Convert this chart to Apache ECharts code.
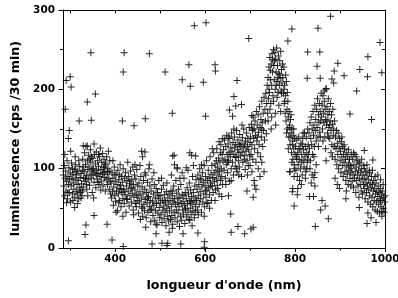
<!DOCTYPE html>
<html>
<head>
<meta charset="utf-8">
<script src="https://cdn.jsdelivr.net/npm/echarts@6/dist/echarts.min.js"></script>
<style>
  html, body { margin: 0; padding: 0; background: #fff; }
  #chart { width: 398px; height: 298px; }
</style>
</head>
<body>
<div id="chart"></div>
<script>
// tick values
const xMajorTicks = [400, 600, 800, 1000];
const xMinorTicks = [300, 500, 700, 900];
const xAllTicks = [300, 400, 500, 600, 700, 800, 900, 1000];

// points, [wavelength nm, counts], grouped by range
const band285 = [[285,92],[286,78],[287,104],[288,66],[289,88],[290,97],[291,72],[292,84],[293,110],[294,62],[295,90],[296,80],[297,101],[298,70],[299,86],[300,95],[301,58],[302,78],[303,107],[304,88],[305,68],[306,93],[307,82],[308,74],[309,99],[310,64],[311,87],[312,105],[313,71],[314,92],[315,80],[316,68],[317,97],[318,85],[319,62],[320,76],[321,103],[322,89],[323,70],[324,94],[325,81],[326,66],[327,98],[328,112],[329,77],[330,88],
  [288,118],[292,57],[301,122],[306,60],[311,115],[316,56],[319,110],[324,63],[327,72],[295,70],[305,100],[313,96],[322,73],[329,102]];
const band330 = [[331,96],[332,120],[333,84],[334,105],[335,128],[336,91],[337,74],[338,110],[339,99],[340,86],[341,117],[342,102],[343,79],[344,93],[345,124],[346,108],[347,88],[348,97],[349,70],[350,113],[351,92],[352,100],[353,83],[354,118],[355,95],[356,106],[357,76],[358,121],[359,98],[360,87],[361,110],[362,94],[363,103],[364,80],[365,115],[366,90],[367,126],[368,99],[369,84],[370,108],[371,93],[372,119],[373,78],[374,101],[375,112],[376,89],[377,96],[378,72],[379,105],[380,86],[381,115],[382,93],[383,80],[384,100],[385,122],[386,88],[387,74],[388,97],[389,84],[390,68],
  [334,88],[339,66],[344,112],[349,100],[353,131],[358,92],[363,118],[368,73],[373,95],[378,107],[383,96],[388,110],[336,80],[347,115],[362,83],[376,102]];
const band390 = [[391,82],[392,63],[393,95],[394,71],[395,88],[396,54],[397,77],[398,102],[399,66],[400,84],[401,59],[402,93],[403,72],[404,80],[405,47],[406,98],[407,68],[408,86],[409,75],[410,60],[411,105],[412,79],[413,52],[414,90],[415,70],[416,83],[417,62],[418,100],[419,74],[420,56],[421,88],[422,67],[423,95],[424,45],[425,78],[426,85],[427,61],[428,108],[429,72],[430,90],[431,53],[432,81],[433,66],[434,97],[435,75],[436,58],[437,86],[438,69],[439,102],[440,48],[441,80],[442,64],[443,92],[444,73],[445,56],[446,87],[447,67],[448,99],[449,60],[450,78],
  [395,110],[402,45],[410,92],[417,40],[425,62],[433,84],[441,42],[447,52],[399,92],[408,57],[420,71],[437,76],[444,105],[413,74]];
const band450 = [[451,66],[452,44],[453,82],[454,58],[455,71],[456,36],[457,90],[458,63],[459,52],[460,77],[461,40],[462,68],[463,85],[464,55],[465,47],[466,74],[467,61],[468,92],[469,38],[470,70],[471,57],[472,83],[473,45],[474,65],[475,100],[476,52],[477,78],[478,60],[479,33],[480,72],[481,49],[482,87],[483,58],[484,41],[485,68],[486,54],[487,80],[488,35],[489,63],[490,47],[491,75],[492,56],[493,29],[494,70],[495,44],[496,62],[497,85],[498,51],[499,38],[500,66],[501,57],[502,42],[503,74],[504,32],[505,60],[506,48],[507,79],[508,53],[509,37],[510,67],[511,45],[512,58],[513,28],[514,71],[515,50],[516,40],[517,63],[518,55],[519,34],[520,68],
  [455,104],[461,115],[466,95],[472,63],[478,48],[486,95],[491,30],[497,66],[503,88],[509,60],[515,82],[459,122],[466,121],[476,105]];
const band520 = [[521,47],[522,60],[523,36],[524,72],[525,52],[526,41],[527,66],[528,30],[529,58],[530,78],[531,45],[532,62],[533,38],[534,55],[535,85],[536,48],[537,69],[538,33],[539,57],[540,44],[541,74],[542,52],[543,27],[544,63],[545,40],[546,80],[547,56],[548,35],[549,67],[550,48],[551,59],[552,42],[553,88],[554,54],[555,31],[556,70],[557,50],[558,62],[559,39],[560,76],[561,56],[562,45],[563,68],[564,36],[565,82],[566,60],[567,50],[568,73],[569,42],[570,65],[571,55],[572,90],[573,47],[574,70],[575,58],[576,38],[577,78],[578,63],[579,52],[580,86],
  [525,92],[532,105],[538,100],[544,88],[549,95],[556,48],[562,98],[568,58],[574,104],[578,45],[528,72],[540,63],[553,66],[566,35]];
const band580 = [[581,60],[582,74],[583,48],[584,92],[585,66],[586,80],[587,55],[588,100],[589,71],[590,62],[591,86],[592,45],[593,77],[594,95],[595,58],[596,83],[597,68],[598,104],[599,52],[600,79],[601,90],[602,64],[603,110],[604,73],[605,85],[606,57],[607,98],[608,76],[609,88],[610,67],[611,115],[612,82],[613,93],[614,60],[615,104],[616,78],[617,89],[618,70],[619,120],[620,95],[621,84],[622,106],[623,73],[624,98],[625,87],[626,125],[627,79],[628,102],[629,92],[630,113],[631,68],[632,96],[633,108],[634,85],[635,130],[636,100],[637,90],[638,118],[639,80],[640,110],
  [585,42],[592,105],[598,40],[604,56],[610,50],[616,125],[622,60],[628,75],[634,120],[639,138],[589,88],[601,72],[613,78],[625,110],[631,134],[637,65]];
const band640 = [[641,124],[642,98],[643,136],[644,112],[645,88],[646,128],[647,105],[648,142],[649,118],[650,95],[651,131],[652,110],[653,120],[654,84],[655,138],[656,115],[657,126],[658,100],[659,145],[660,122],[661,108],[662,133],[663,92],[664,118],[665,140],[666,127],[667,103],[668,130],[669,114],[670,148],[671,96],[672,124],[673,136],[674,110],[675,120],[676,102],[677,143],[678,128],[679,116],[680,132],[681,90],[682,121],[683,139],[684,108],[685,126],[686,150],[687,117],[688,130],[689,99],[690,135],[691,122],[692,145],[693,110],[694,128],[695,138],[696,104],[697,124],[698,152],[699,116],[700,133],
  [646,80],[652,140],[658,85],[664,150],[670,100],[676,130],[682,155],[688,112],[694,92],[700,104],[650,108],[667,115]];
const band700 = [[701,140],[702,118],[703,156],[704,130],[705,148],[706,112],[707,165],[708,138],[709,150],[710,125],[711,160],[712,142],[713,108],[714,172],[715,135],[716,155],[717,120],[718,168],[719,146],[720,130],[721,178],[722,152],[723,115],[724,162],[725,140],[726,185],[727,158],[728,128],[729,170],[730,148],[731,190],[732,136],[733,175],[734,160],[735,195],[736,144],[737,182],
  [704,96],[709,85],[713,74],[718,100],[722,90],[726,108],[731,96],[706,150],[716,140],[726,150]];
const peak750 = [[738,205],[739,170],[740,215],[741,188],[742,228],[743,196],[744,240],[745,212],[746,182],[747,232],[748,205],[749,245],[750,222],[751,192],[752,250],[753,230],[754,212],[755,246],[756,200],[757,238],[758,222],[759,252],[760,210],[761,230],[762,196],[763,242],[764,220],[765,205],[766,236],[767,214],[768,248],[769,198],[770,225],[771,208],[772,232],
  [740,160],[744,175],[748,165],[752,185],[756,170],[760,190],[764,180],[768,172],[742,200],[750,238],[758,205],[766,218],[745,224],[754,236],[762,215],[770,195],[747,150],[757,155]];
const band773 = [[773,215],[774,195],[775,228],[776,182],[777,205],[778,170],[779,192],[780,160],[781,210],[782,175],[783,150],[784,185],[785,165],[786,140],[787,172],[788,155],[789,130],[790,162],[791,145],[792,120],[793,150],[794,135],[795,112],[796,142],[797,125],[798,105],[799,138],[800,118],
  [775,200],[779,218],[783,196],[787,152],[791,168],[795,130],[799,100],[777,185],[785,125],[789,140],[793,108],[797,150],[781,145],[789,96],[795,75],[798,90]];
const band800 = [[801,128],[802,98],[803,115],[804,136],[805,90],[806,120],[807,105],[808,140],[809,112],[810,85],[811,125],[812,100],[813,132],[814,108],[815,118],[816,92],[817,138],[818,110],[819,124],[820,102],[821,145],[822,115],[823,128],[824,96],[825,140],[826,120],[827,108],[828,150],[829,130],[830,118],
  [804,112],[809,125],[814,80],[818,145],[823,88],[828,112],[806,75],[816,130],[826,100]];
const band830 = [[831,145],[832,125],[833,158],[834,110],[835,138],[836,165],[837,130],[838,150],[839,118],[840,172],[841,142],[842,155],[843,128],[844,180],[845,148],[846,162],[847,135],[848,175],[849,152],[850,188],[851,140],[852,168],[853,158],[854,182],[855,146],[856,172],[857,160],[858,195],
  [833,100],[838,92],[842,115],[847,105],[852,128],[856,140],[836,82],[844,95]];
const peak870 = [[859,165],[860,180],[861,150],[862,192],[863,170],[864,158],[865,185],[866,140],[867,175],[868,162],[869,200],[870,155],[871,178],[872,145],[873,168],[874,188],[875,152],[876,172],[877,138],[878,160],[879,182],[880,148],[881,168],[882,130],[883,156],[884,175],[885,142],
  [862,135],[868,125],[874,140],[880,120],[865,198],[871,160],[877,155],[883,115]];
const band886 = [[886,150],[887,128],[888,160],[889,112],[890,140],[891,125],[892,148],[893,105],[894,132],[895,118],[896,145],[897,100],[898,126],[899,138],[900,110],[901,122],[902,95],[903,134],[904,115],[905,104],[906,128],[907,90],[908,118],[909,108],[910,125],[911,96],[912,112],[913,85],[914,120],[915,102],[916,93],[917,115],[918,80],[919,106],[920,98],[921,112],[922,88],[923,104],[924,95],[925,118],
  [889,88],[894,80],[899,75],[904,140],[909,130],[914,72],[919,124],[924,78]];
const band925 = [[926,100],[927,84],[928,112],[929,92],[930,76],[931,105],[932,88],[933,118],[934,96],[935,70],[936,102],[937,85],[938,110],[939,92],[940,78],[941,98],[942,64],[943,88],[944,106],[945,80],[946,95],[947,72],[948,100],[949,86],[950,68],[951,92],[952,80],[953,104],[954,75],[955,88],[956,62],[957,96],[958,82],[959,70],[960,92],[961,78],[962,58],[963,86],[964,73],[965,98],[966,66],[967,82],[968,55],[969,76],[970,90],[971,64],[972,80],[973,52],[974,72],[975,85],[976,60],[977,75],[978,48],[979,68],[980,82],[981,58],[982,72],[983,46],[984,65],[985,78],[986,55],[987,70],[988,44],[989,62],[990,75],[991,52],[992,68],[993,40],[994,60],[995,72],[996,50],[997,64],[998,45],[999,58],[1000,66],
  [930,120],[936,115],[942,108],[948,112],[954,100],[960,105],[966,95],[972,98],[978,90],[984,92],[990,86],[996,80]];
const highOutliers = [[346,246],[420,246],[476,245],[418,222],[511,222],[576,280],[564,231],[549,212],[567,204],[291,211],[300,216],[302,203],[338,184],[356,194],[289,175],[320,160],[347,161],[416,160],[442,154],[467,163],[527,170],[298,148],[296,138],[329,129],[338,129],[602,284],[622,231],[623,223],[596,209],[601,166],[697,264],[793,276],[784,261],[851,277],[879,292],[989,259],[828,247],[855,247],[962,241],[849,229],[895,233],[887,223],[944,225],[993,221],[909,217],[961,216],[827,214],[856,214],[882,213],[671,211],[937,198],[886,208],[869,201],[664,191],[922,169],[970,162],[704,167],[654,174],[668,179],[681,181],[661,166],[531,117],[566,120],[579,116],[538,101],[558,101],[528,116],[570,117]];
const lowOutliers = [[296,9],[418,2],[393,10],[335,29],[353,41],[382,30],[461,50],[468,26],[482,5],[504,6],[515,3],[546,5],[517,6],[599,8],[598,1],[491,18],[520,20],[551,18],[571,28],[584,19],[527,25],[658,20],[673,27],[688,18],[702,24],[707,26],[657,43],[652,66],[707,64],[693,72],[710,79],[798,53],[794,71],[805,67],[788,96],[675,92],[845,27],[874,37],[857,48],[867,53],[860,60],[832,65],[841,65],[844,78],[842,89],[869,110],[954,123],[973,111],[913,62],[960,31],[980,32],[969,38],[962,44],[943,51],[993,46],[990,60],[333,17],[352,63],[310,51]];

const allPoints = [].concat(band285, band330, band390, band450, band520, band580, band640,
  band700, peak750, band773, band800, band830, peak870, band886, band925, highOutliers, lowOutliers);

const myChart = echarts.init(document.getElementById('chart'), null, { renderer: 'canvas' });

const fontFamily = '"DejaVu Sans", sans-serif';
const black = { color: '#000', width: 1 };
const plainNumber = (v) => String(v); // no thousands separator on 1000

const option = {
  animation: false,
  backgroundColor: '#fff',
  grid: { left: 63, right: 13, top: 10, bottom: 50, outerBoundsMode: 'none' },
  xAxis: [
    {
      type: 'value', min: 284, max: 1000, position: 'bottom',
      name: "longueur d'onde (nm)", nameLocation: 'middle', nameGap: 31,
      nameTextStyle: { fontFamily, fontWeight: 'bold', fontSize: 12.7, color: '#000' },
      axisLine: { show: true, lineStyle: black },
      axisTick: { show: true, length: 4, customValues: xMajorTicks, lineStyle: black },
      axisLabel: { customValues: xMajorTicks, formatter: plainNumber, margin: 6, fontFamily, fontWeight: 'bold', fontSize: 10.5, color: '#000' },
      splitLine: { show: false },
    },
    {
      type: 'value', min: 284, max: 1000, position: 'bottom',
      axisLine: { show: false },
      axisTick: { show: true, length: 2.5, customValues: xMinorTicks, lineStyle: black },
      axisLabel: { show: false },
      splitLine: { show: false },
    },
    {
      type: 'value', min: 284, max: 1000, position: 'top',
      axisLine: { show: true, lineStyle: black },
      axisTick: { show: true, inside: true, length: 3.5, customValues: xAllTicks, lineStyle: black },
      axisLabel: { show: false },
      splitLine: { show: false },
    },
  ],
  yAxis: [
    {
      type: 'value', min: 0, max: 300, interval: 100, position: 'left',
      name: 'luminescence (cps /30 min)', nameLocation: 'middle', nameGap: 37,
      nameTextStyle: { fontFamily, fontWeight: 'bold', fontSize: 12.7, color: '#000', padding: [0, 19, 0, 0] },
      axisLine: { show: true, lineStyle: black },
      axisTick: { show: true, length: 4.5, lineStyle: black },
      minorTick: { show: true, splitNumber: 2, length: 3, lineStyle: black },
      axisLabel: { margin: 8, formatter: plainNumber, fontFamily, fontWeight: 'bold', fontSize: 10.5, color: '#000' },
      splitLine: { show: false },
      minorSplitLine: { show: false },
    },
    {
      type: 'value', min: 0, max: 300, interval: 100, position: 'right',
      axisLine: { show: true, lineStyle: black },
      axisTick: { show: true, inside: true, length: 4, lineStyle: black },
      minorTick: { show: true, splitNumber: 2, length: 3, lineStyle: black },
      axisLabel: { show: false },
      splitLine: { show: false },
      minorSplitLine: { show: false },
    },
  ],
  series: [
    {
      type: 'scatter',
      xAxisIndex: 0,
      yAxisIndex: 0,
      data: allPoints,
      symbol: 'path://M3 0h1v3h3v1h-3v3h-1v-3h-3v-1h3z',
      symbolSize: 7,
      itemStyle: { color: '#111', opacity: 0.9 },
      emphasis: { disabled: true },
      silent: true,
    },
  ],
};

myChart.setOption(option);

window.addEventListener('resize', () => {
  myChart.resize();
});
</script>
</body>
</html>
